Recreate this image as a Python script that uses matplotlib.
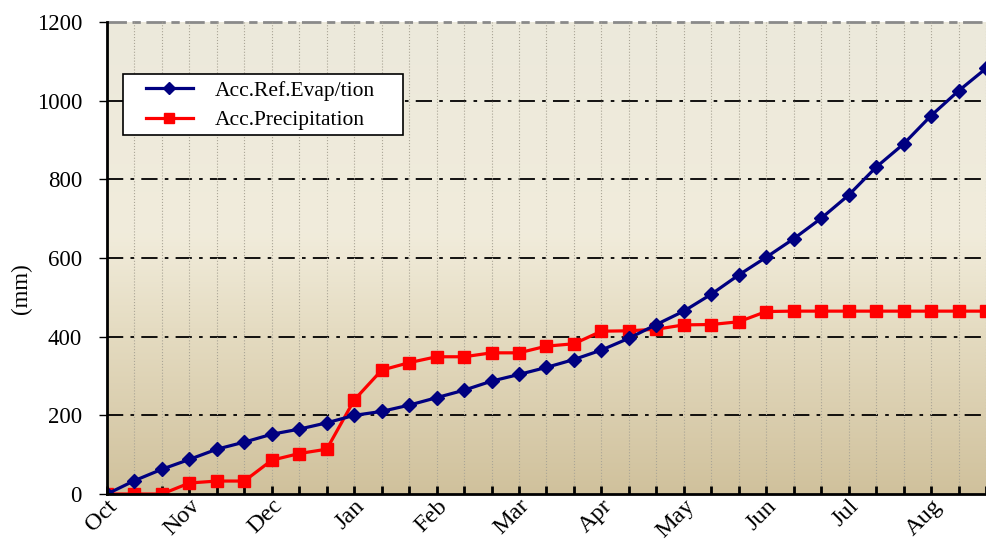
import matplotlib
matplotlib.use("Agg")
import matplotlib.pyplot as plt
import numpy as np
from matplotlib.colors import LinearSegmentedColormap
from matplotlib.patches import Rectangle

MONTHS = ["Oct", "Nov", "Dec", "Jan", "Feb", "Mar", "Apr", "May", "Jun", "Jul", "Aug"]

# accumulated values per dekad (mm), starting 1 Oct
ACC_ET = [0, 34, 63, 88, 114, 132, 152, 165, 181, 200, 210, 226, 245, 264, 287,
          304, 322, 342, 366, 396, 431, 465, 508, 557, 602, 649, 701, 760, 831,
          890, 962, 1025, 1082]
ACC_PRECIP = [0, 0, 0, 28, 33, 33, 86, 103, 114, 239, 315, 334, 349, 349, 359,
              359, 376, 382, 414, 415, 419, 430, 431, 438, 464, 465, 465, 465,
              465, 465, 465, 465, 465]

plt.rcParams["font.family"] = ["Liberation Serif", "DejaVu Serif"]

fig = plt.figure(figsize=(9.86, 5.51), dpi=100)
ax = fig.add_axes([0.1085, 0.1034, 0.8915, 0.8566])

# background gradient
cmap = LinearSegmentedColormap.from_list(
    "bg", [(0.0, "#d0c19c"), (0.35, "#e5dcc2"), (0.55, "#f1ecdb"), (1.0, "#ece9dc")])
grad = np.linspace(0, 1, 256).reshape(-1, 1)
ax.imshow(grad, cmap=cmap, aspect="auto", origin="lower", extent=[0, 1, 0, 1],
          transform=ax.transAxes, zorder=0)

x = np.arange(len(ACC_ET))
ax.plot(x, ACC_ET, color="#000080", lw=2.3, marker="D", ms=7.5,
        label="Acc.Ref.Evap/tion", zorder=4)
ax.plot(x, ACC_PRECIP, color="#ff0000", lw=2.3, marker="s", ms=8,
        label="Acc.Precipitation", zorder=3)

ax.set_xlim(0, 32)
ax.set_ylim(0, 1200)
ax.set_yticks(range(0, 1201, 200))
ax.set_xticks(np.arange(0, 33, 1), minor=True)
ax.set_xticks(np.arange(0, 3 * len(MONTHS), 3))
ax.set_xticklabels(MONTHS, rotation=45, ha="right", rotation_mode="anchor")

for v in range(200, 1001, 200):
    ax.axhline(v, color="black", lw=1.3, ls=(0, (9, 4, 2, 4)), zorder=1)
ax.axhline(1200, color="#8a8a8a", lw=2, ls=(0, (7, 2, 3, 2)), zorder=1, clip_on=False)
ax.grid(True, axis="x", which="both", color="#aaa596", lw=0.8, ls=":", zorder=1)

for s in ["top", "right"]:
    ax.spines[s].set_visible(False)
for s in ["left", "bottom"]:
    ax.spines[s].set_linewidth(2)
    ax.spines[s].set_zorder(5)

ax.tick_params(axis="y", direction="out", length=6, width=1, pad=12, labelsize=16.5)
ax.tick_params(axis="x", which="both", direction="in", length=6, width=2, labelsize=17.5, pad=1)

ax.set_ylabel("(mm)", fontsize=16.5)
ax.yaxis.set_label_coords(-0.085, 0.436)

# legend box (wider side padding than matplotlib's frame allows)
box = Rectangle((0.0182, 0.7606), 0.3185, 0.1292, transform=ax.transAxes,
                facecolor="white", edgecolor="black", lw=1.2, zorder=6)
ax.add_patch(box)
leg = ax.legend(loc="upper left", bbox_to_anchor=(0.044, 0.876), fontsize=15.5,
                frameon=False, handlelength=2.2, handletextpad=1.0, borderpad=0,
                labelspacing=0.45, borderaxespad=0, markerscale=0.85)
leg.set_zorder(7)

fig.savefig("out.png", dpi=100)
